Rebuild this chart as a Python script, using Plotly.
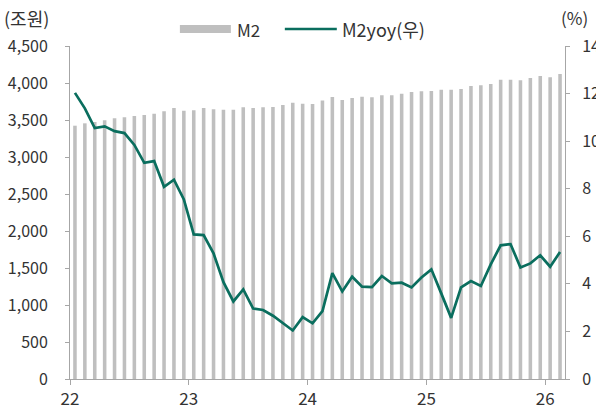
import plotly.graph_objects as go

# Monthly data, Jan 2022 - Feb 2026
months = [f"{y}-{m:02d}" for y in range(2022, 2027) for m in range(1, 13)][:50]

m2 = [3423, 3455, 3472, 3495, 3523, 3536, 3554, 3568, 3585, 3617,
      3662, 3626, 3631, 3662, 3644, 3640, 3638, 3671, 3662, 3671,
      3676, 3703, 3734, 3720, 3716, 3765, 3811, 3770, 3797, 3815,
      3806, 3833, 3833, 3856, 3878, 3887, 3892, 3910, 3910, 3919,
      3959, 3968, 3986, 4045, 4045, 4036, 4068, 4095, 4077, 4122]

m2_yoy = [12.03, 11.38, 10.55, 10.62, 10.42, 10.34, 9.84, 9.09, 9.16, 8.08,
          8.38, 7.55, 6.08, 6.05, 5.28, 4.07, 3.26, 3.77, 2.96, 2.90,
          2.66, 2.34, 2.04, 2.60, 2.34, 2.85, 4.45, 3.68, 4.30, 3.88,
          3.86, 4.33, 4.02, 4.05, 3.85, 4.27, 4.61, 3.60, 2.57, 3.85,
          4.12, 3.91, 4.82, 5.62, 5.67, 4.69, 4.86, 5.20, 4.72, 5.34]

year_ticks = ["22", "23", "24", "25", "26"]

FONT = "Noto Sans CJK KR"
TEXT = "#333333"
AXIS = "#a6a6a6"
BAR = "#bfbfbf"
LINE = "#0a6e5e"

idx = list(range(len(months)))

fig = go.Figure()
fig.add_trace(go.Bar(x=idx, y=m2, name="M2", marker_color=BAR,
                     marker_line_width=0, yaxis="y"))
fig.add_trace(go.Scatter(x=idx, y=m2_yoy, name="M2yoy(우)", mode="lines",
                         line=dict(color=LINE, width=2.7), yaxis="y2"))

# year boundaries sit between December and January
tick_pos = [i * 12 - 0.5 for i in range(len(year_ticks))]

fig.update_layout(
    width=596, height=410,
    margin=dict(l=70, r=31, t=46, b=31),
    paper_bgcolor="white", plot_bgcolor="white",
    bargap=0.64,
    showlegend=False,
    font=dict(family=FONT, color=TEXT, size=16),
    xaxis=dict(range=[-0.5, 49.5], tickmode="array", tickvals=tick_pos,
               ticktext=year_ticks, showgrid=False, zeroline=False,
               showline=True, linecolor=AXIS, linewidth=1,
               ticks="outside", ticklen=5, tickcolor=AXIS,
               tickfont=dict(size=17), automargin=False),
    yaxis=dict(range=[0, 4500], dtick=500, tickformat=",", showgrid=False,
               zeroline=False, showline=True, linecolor=AXIS, linewidth=1,
               ticks="outside", ticklen=4, tickcolor=AXIS,
               ticklabelstandoff=14, automargin=False),
    yaxis2=dict(range=[0, 14], dtick=2, overlaying="y", side="right",
                showgrid=False, zeroline=False, showline=True,
                linecolor=AXIS, linewidth=1, ticks="outside", ticklen=4,
                tickcolor=AXIS, ticklabelstandoff=9, automargin=False),
)

# axis unit labels
fig.add_annotation(text="(조원)", xref="paper", yref="paper", x=-0.137, y=1.085,
                   xanchor="left", yanchor="middle", showarrow=False,
                   font=dict(size=18))
fig.add_annotation(text="(%)", xref="paper", yref="paper", x=0.988, y=1.085,
                   xanchor="left", yanchor="middle", showarrow=False,
                   font=dict(size=17))

# legend drawn as shapes + labels
fig.add_shape(type="rect", xref="paper", yref="paper", x0=0.222, x1=0.325,
              y0=1.039, y1=1.063, fillcolor=BAR, line_width=0)
fig.add_annotation(text="M2", xref="paper", yref="paper", x=0.333, y=1.051,
                   xanchor="left", yanchor="middle", showarrow=False,
                   font=dict(size=17))
fig.add_shape(type="line", xref="paper", yref="paper", x0=0.434, x1=0.539,
              y0=1.051, y1=1.051, line=dict(color=LINE, width=2.7))
fig.add_annotation(text="M2yoy(우)", xref="paper", yref="paper", x=0.545, y=1.051,
                   xanchor="left", yanchor="middle", showarrow=False,
                   font=dict(size=18))

fig.write_html("out.html")
